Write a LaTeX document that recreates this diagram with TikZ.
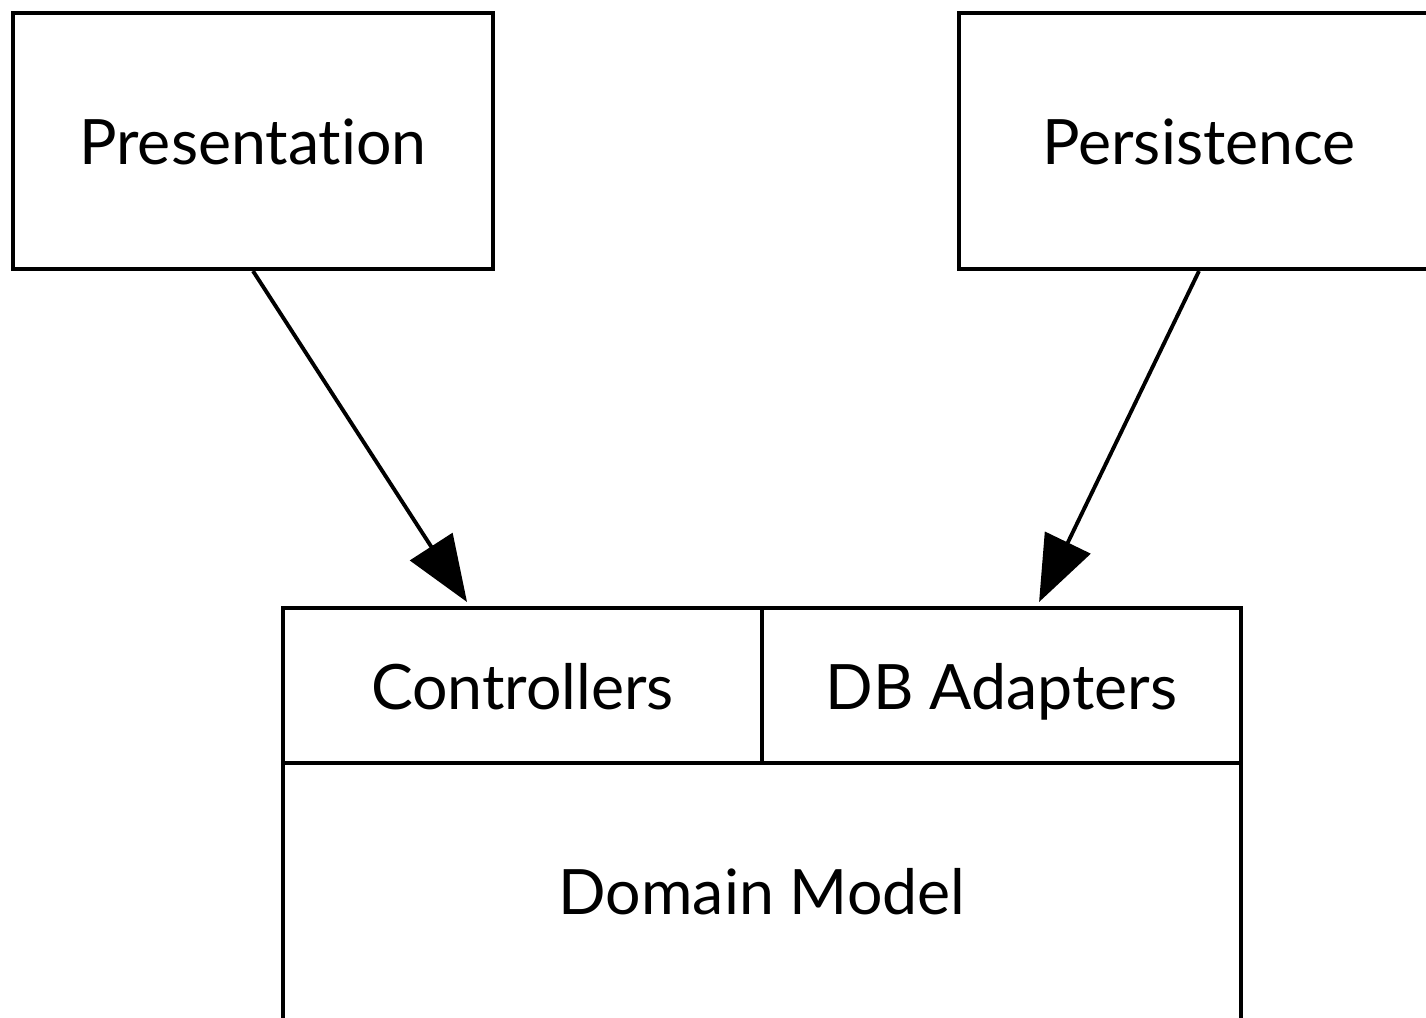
\documentclass[tikz,border=0pt]{standalone}
\usepackage{fontspec}
\setmainfont{Lato}[Ligatures=NoCommon]
\usepackage{tikz}
\usetikzlibrary{arrows.meta}

\begin{document}
\begin{tikzpicture}[x=0.01cm,y=-0.01cm,line width=1.1pt,
  font=\fontsize{17.8}{22}\selectfont,
  txt/.style = {inner sep=0pt, text height=14.6pt, text depth=1pt},
  bx/.style args = {#1/#2}{txt, rectangle, draw, minimum width=#1cm, minimum height=#2cm},
  arr/.style = {-{Triangle[length=0.66cm,width=0.5cm]}}]
\useasboundingbox (0,0) rectangle (1426,1017);
\clip (0,0) rectangle (1426,1017);
\node (pres) [bx=4.8/2.56] at (253,141) {Presentation};
\node (pers) [bx=4.8/2.56] at (1199,141) {Persistence};
\node (ctrl) [bx=4.79/1.55] at (522.5,685.5) {Controllers};
\node (dba) [bx=4.79/1.55] at (1001.5,685.5) {DB Adapters};
\node (dom) [bx=9.58/2.6] at (762,893) {};
\node (domtxt) [txt] at (762,891) {Domain Model};
\draw[arr] (pres.south) -- ([xshift=1.86cm,yshift=0.04cm]ctrl.north west);
\draw[arr] (pers.south) -- ([xshift=2.79cm,yshift=0.04cm]dba.north west);
\end{tikzpicture}
\end{document}
